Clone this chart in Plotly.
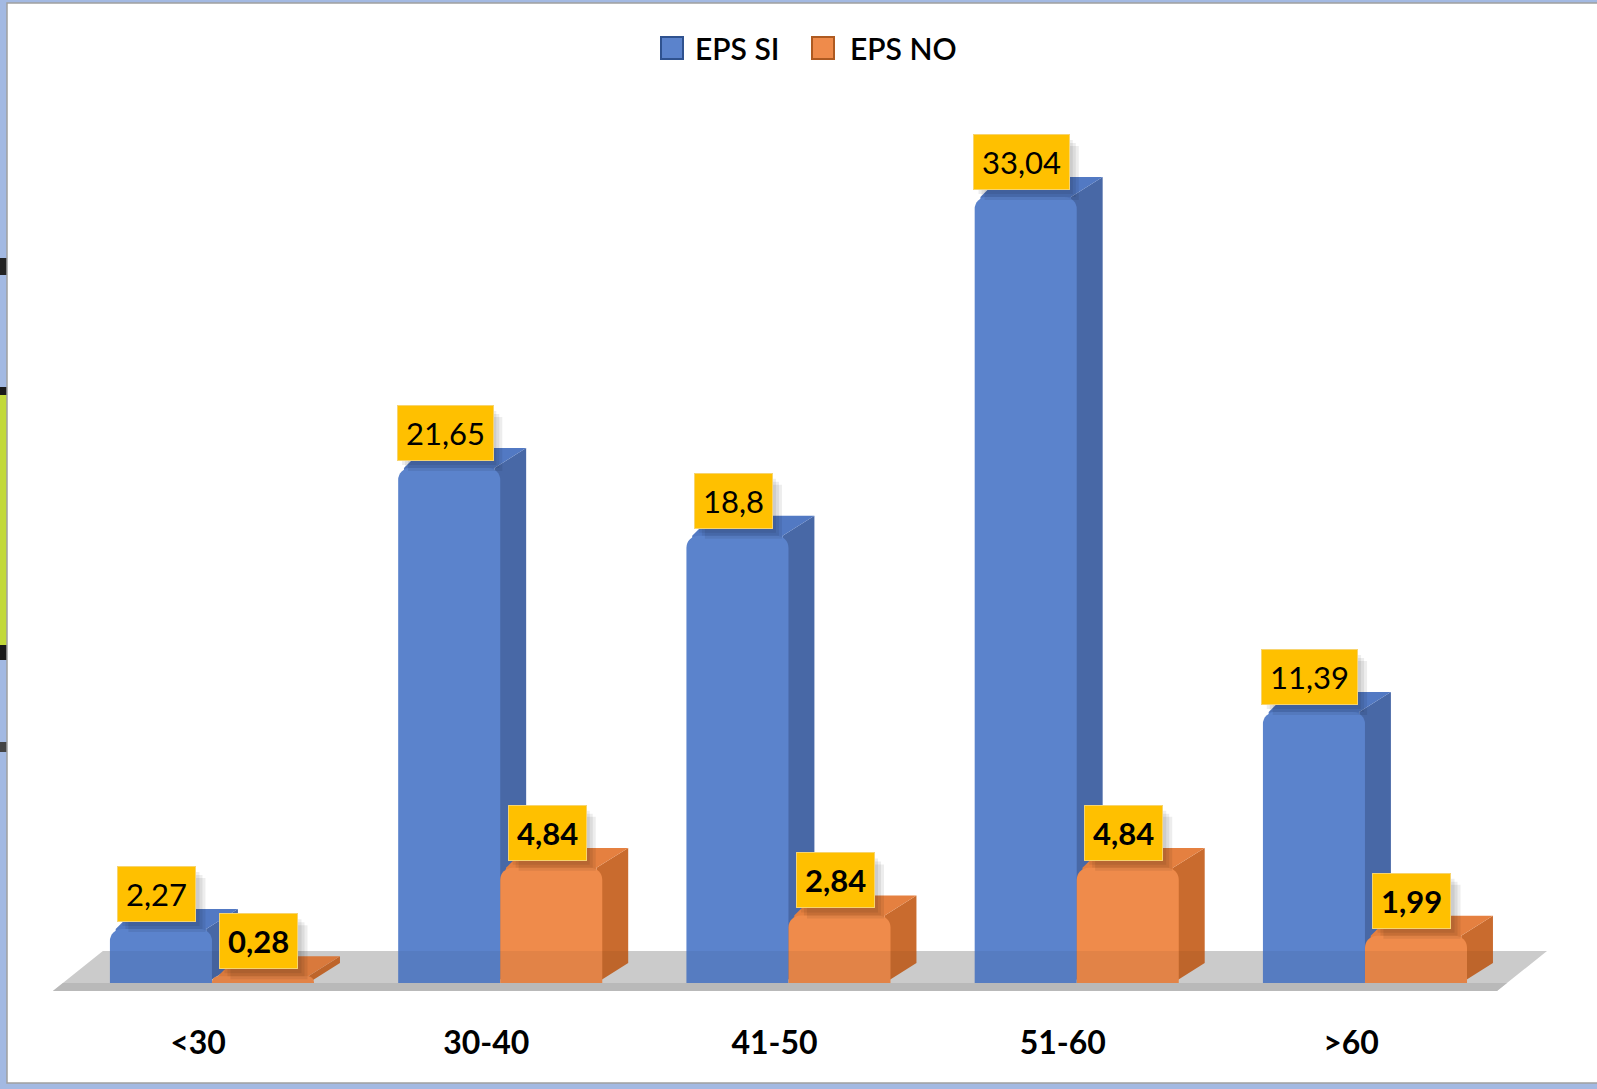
import plotly.graph_objects as go

# ---- data ----
categories = ["<30", "30-40", "41-50", "51-60", ">60"]
eps_si = [2.27, 21.65, 18.8, 33.04, 11.39]
eps_no = [0.28, 4.84, 2.84, 4.84, 1.99]
series_names = ["EPS SI", "EPS NO"]

# ---- geometry (figure pixels / data units) ----
W, H = 1597, 1089
PLOT_L, PLOT_R, PLOT_T, PLOT_B = 20, 1580, 100, 1000
X_RANGE = [-0.666, 4.746]
Y_RANGE = [-0.715, 37.12]
BAR_W = 0.354          # width of one bar front
DX, DY = 0.090, 0.84   # depth offset of the 3-D faces
FLOOR_FRONT, FLOOR_BACK = -0.336, 1.345
FLOOR_X0, FLOOR_X1, FLOOR_SKEW = -0.552, 4.458, 0.1735

styles = {
    "EPS SI": dict(front="#5B83CC", side="#4868A6", top="#5279C3", edge="#2F528F",
                   offset=-BAR_W / 2, weight="normal"),
    "EPS NO": dict(front="#EF8B4B", side="#C96B2E", top="#E58040", edge="#AE5A21",
                   offset=BAR_W / 2, weight="bold"),
}
FONT = "Lato"
LABEL_SIZE = 31
LABEL_PAD = 8
LABEL_LIFT = 7          # px between bar top and label box
LABEL_H = 54            # rendered label box height, px


def fmt(v):
    return f"{v:g}".replace(".", ",")


def label_width(text):
    digits = sum(ch.isdigit() for ch in text)
    commas = text.count(",")
    return 2 * LABEL_PAD + 2 + 17.2 * digits + 7.5 * commas


def floor_x(xfront, y):
    """x of the floor edge at height y (floor is skewed backwards)."""
    return xfront + FLOOR_SKEW * (y - FLOOR_FRONT) / (FLOOR_BACK - FLOOR_FRONT)


def poly(xs, ys, color, z):
    return go.Scatter(x=xs, y=ys, mode="lines", fill="toself", fillcolor=color,
                      line=dict(width=0), hoverinfo="skip", showlegend=False, zorder=z)


fig = go.Figure()

# floor under the bars
fx = [FLOOR_X0, FLOOR_X1, FLOOR_X1 + FLOOR_SKEW, FLOOR_X0 + FLOOR_SKEW, FLOOR_X0]
fy = [FLOOR_FRONT, FLOOR_FRONT, FLOOR_BACK, FLOOR_BACK, FLOOR_FRONT]
fig.add_trace(poly(fx, fy, "#D6D6D6", 0))
# darker front lip of the floor
lx = [FLOOR_X0, FLOOR_X1, floor_x(FLOOR_X1, 0), floor_x(FLOOR_X0, 0), FLOOR_X0]
ly = [FLOOR_FRONT, FLOOR_FRONT, 0, 0, FLOOR_FRONT]
fig.add_trace(poly(lx, ly, "#B9B9B9", 0))

z = 1
for name, vals in zip(series_names, [eps_si, eps_no]):
    st = styles[name]
    sx, sy, tx, ty = [], [], [], []
    for i, v in enumerate(vals):
        x0 = i + st["offset"] - BAR_W / 2
        x1 = x0 + BAR_W
        lo = max(v - 0.6, 0)
        xi = x1 - 0.02
        sx += [xi, x1 + DX, x1 + DX, xi, xi, None]
        sy += [0, DY, v + DY, v, 0, None]
        tx += [x0 + 0.02, x0 + 0.02, x0 + DX, x1 + DX, xi, xi, x0 + 0.02, None]
        ty += [lo, v, v + DY, v + DY, v, lo, lo, None]
    fig.add_trace(poly(sx, sy, st["side"], z))
    fig.add_trace(poly(tx, ty, st["top"], z))
    fig.add_trace(go.Bar(x=list(range(len(categories))), y=vals, name=name,
                         width=BAR_W, offset=st["offset"] - BAR_W / 2,
                         marker=dict(color=st["front"], line=dict(width=0),
                                     cornerradius=12),
                         showlegend=False, zorder=z + 1))
    z += 2

# shade where the floor shows through the bar bottoms
bx = [floor_x(FLOOR_X0, 0), floor_x(FLOOR_X1, 0), FLOOR_X1 + FLOOR_SKEW,
      FLOOR_X0 + FLOOR_SKEW]
bx.append(bx[0])
by = [0, 0, FLOOR_BACK, FLOOR_BACK, 0]
fig.add_trace(poly(bx, by, "rgba(0,0,0,0.05)", z))

# value labels: soft shadow shapes, then the yellow boxes
shadow_steps = [4, 7, 10]
for name, vals in zip(series_names, [eps_si, eps_no]):
    st = styles[name]
    for i, v in enumerate(vals):
        xc = i + st["offset"] - 0.014
        w = label_width(fmt(v))
        for s in shadow_steps:
            fig.add_shape(type="rect", xref="x", yref="y", layer="above",
                          xsizemode="pixel", ysizemode="pixel",
                          xanchor=xc, yanchor=v,
                          x0=-w / 2 + s, x1=w / 2 + s,
                          y0=LABEL_LIFT - s, y1=LABEL_LIFT + LABEL_H - s,
                          fillcolor="rgba(0,0,0,0.07)", line=dict(width=0))
        fig.add_annotation(x=xc, y=v, text=fmt(v), yshift=LABEL_LIFT,
                           xref="x", yref="y", yanchor="bottom", xanchor="center",
                           showarrow=False, borderpad=LABEL_PAD,
                           font=dict(family=FONT, size=LABEL_SIZE, color="black",
                                     weight=st["weight"]),
                           bgcolor="#FFC000", bordercolor="#F7D46E", borderwidth=1)

# legend
legend_items = [(series_names[0], 661, 693), (series_names[1], 812, 848)]
for name, sq_x, text_x in legend_items:
    st = styles[name]
    fig.add_shape(type="rect", xref="paper", yref="paper",
                  x0=sq_x / W, x1=(sq_x + 22) / W, y0=1 - 59 / H, y1=1 - 37 / H,
                  fillcolor=st["front"], line=dict(color=st["edge"], width=2))
    fig.add_annotation(x=text_x / W, y=1 - 48 / H, xref="paper", yref="paper",
                       text=name, showarrow=False, xanchor="left", yanchor="middle",
                       font=dict(family=FONT, size=30, color="black", weight=600))

# frame around the picture
frame_fill = "#A3B9E2"
for x0, x1, y0, y1, col in [(0, 7, 0, H, frame_fill), (0, W, 0, 3, frame_fill),
                            (0, W, H - 6, H, frame_fill),
                            (0, 7, 387, 652, "#C2D93A"), (0, 7, 387, 395, "#1A1A1A"),
                            (0, 7, 645, 660, "#1A1A1A"), (0, 7, 258, 275, "#222222"),
                            (0, 7, 742, 752, "#444444")]:
    fig.add_shape(type="rect", xref="paper", yref="paper", layer="above",
                  x0=x0 / W, x1=x1 / W, y0=1 - y1 / H, y1=1 - y0 / H,
                  fillcolor=col, line=dict(width=0))
fig.add_shape(type="rect", xref="paper", yref="paper", layer="above",
              x0=7 / W, x1=1.02, y0=6 / H, y1=1 - 3 / H,
              fillcolor="rgba(0,0,0,0)", line=dict(color="#A0A0A0", width=1.5))

fig.update_layout(
    width=W, height=H,
    margin=dict(l=0, r=0, t=0, b=0),
    paper_bgcolor="white", plot_bgcolor="white",
    barmode="overlay",
    showlegend=False,
    xaxis=dict(domain=[PLOT_L / W, PLOT_R / W], range=X_RANGE,
               tickvals=list(range(len(categories))), ticktext=categories,
               ticklabelshift=-14, ticklabelstandoff=21,
               tickfont=dict(family=FONT, size=32, color="black", weight="bold"),
               showgrid=False, zeroline=False, showline=False, ticks="",
               fixedrange=True),
    yaxis=dict(domain=[1 - PLOT_B / H, 1 - PLOT_T / H], range=Y_RANGE,
               visible=False, fixedrange=True),
)

fig.write_html("out.html")
